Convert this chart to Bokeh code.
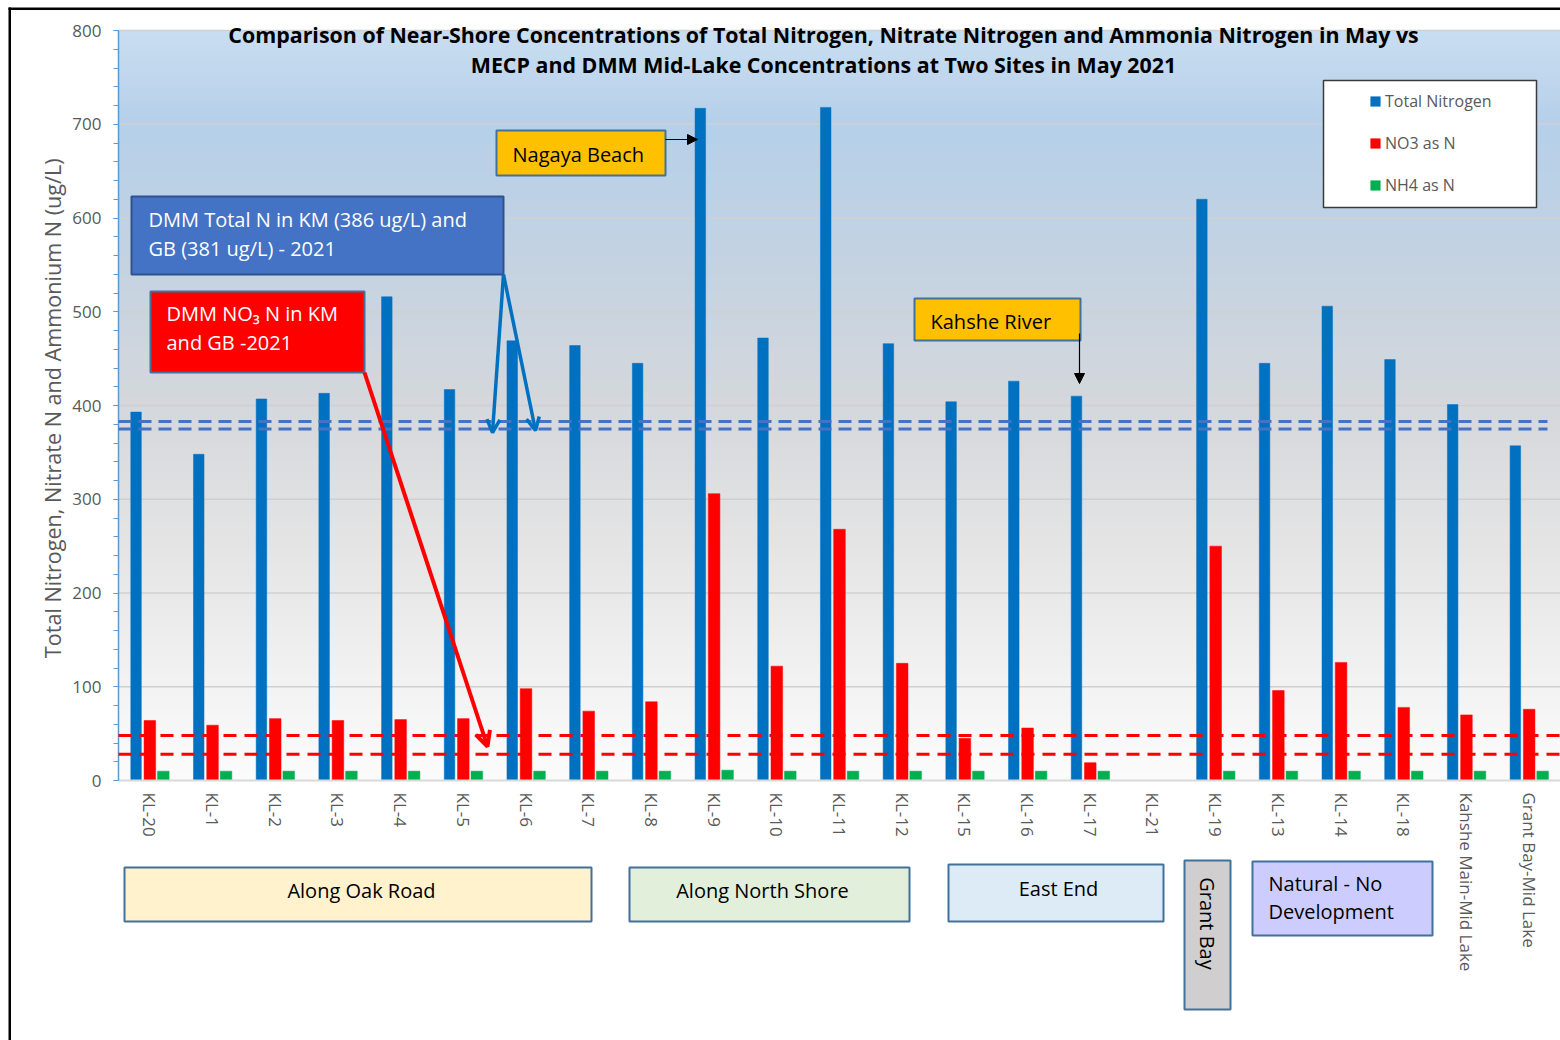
import math
import numpy as np
from bokeh.plotting import figure
from bokeh.models import (ColumnDataSource, Range1d, Label, BoxAnnotation, Arrow, OpenHead,
                          NormalHead, Legend, LegendItem, FixedTicker)
from bokeh.transform import dodge
from bokeh.embed import file_html
from bokeh.resources import INLINE

# ---------------- data ----------------
sites = ["KL-20", "KL-1", "KL-2", "KL-3", "KL-4", "KL-5", "KL-6", "KL-7", "KL-8", "KL-9",
         "KL-10", "KL-11", "KL-12", "KL-15", "KL-16", "KL-17", "KL-21", "KL-19", "KL-13",
         "KL-14", "KL-18", "Kahshe Main-Mid Lake", "Grant Bay-Mid Lake"]
total_n = [393, 348, 407, 413, 516, 417, 469, 464, 445, 717, 472, 718, 466, 404, 426, 410,
           0, 620, 445, 506, 449, 401, 357]
no3_n = [64, 59, 66, 64, 65, 66, 98, 74, 84, 306, 122, 268, 125, 45, 56, 19,
         0, 250, 96, 126, 78, 70, 76]
nh4_n = [10, 10, 10, 10, 10, 10, 10, 10, 10, 11, 10, 10, 10, 10, 10, 10,
         0, 10, 10, 10, 10, 10, 10]
dmm_total_n_lines = [383, 375]
dmm_no3_lines = [48, 28]
y_ticks = [0, 100, 200, 300, 400, 500, 600, 700, 800]

FONT = "Open Sans"
GRAY = "#595959"

# ---------------- layout constants (page px) ----------------
W, H = 1560, 1040
FRAME_L, FRAME_T, FRAME_B, FRAME_R = 118, 30, 780, 1560
CAT_W = (FRAME_R - FRAME_L) / len(sites)
PPU = (FRAME_B - FRAME_T) / 800.0


def X(px):
    return (px - FRAME_L) / CAT_W


def Y(py):
    return (FRAME_B - py) / PPU


pos = [i + 0.5 for i in range(len(sites))]
src = ColumnDataSource(dict(pos=pos, site=sites, tn=total_n, no3=no3_n, nh4=nh4_n))

p = figure(width=W, height=H, x_range=Range1d(X(0), X(W)), y_range=Range1d(Y(H), Y(0)),
           output_backend="svg", toolbar_location=None, title=None,
           min_border_left=0, min_border_right=0, min_border_top=0, min_border_bottom=0)
p.outline_line_color = None
p.border_fill_color = "white"
p.background_fill_color = "white"
p.xgrid.visible = False
p.ygrid.visible = False

# gradient background of the plotting area (0..n categories, 0..800)
stops_v = [0, 100, 250, 400, 550, 700, 800]
stops_c = [(252, 252, 252), (243, 243, 243), (229, 229, 229), (213, 216, 220),
           (197, 211, 226), (182, 208, 234), (202, 222, 241)]
ys = np.linspace(0, 800, 400)
img = np.empty((400, 2), dtype=np.uint32)
view = img.view(dtype=np.uint8).reshape((400, 2, 4))
for k in range(3):
    view[:, :, k] = np.interp(ys, stops_v, [c[k] for c in stops_c])[:, None].astype(np.uint8)
view[:, :, 3] = 255
p.image_rgba(image=[img], x=0, y=0, dw=len(sites), dh=800, level="image")

# horizontal gridlines at the major ticks
n = len(sites)
p.segment(x0=[0] * len(y_ticks[1:]), x1=[n] * len(y_ticks[1:]), y0=y_ticks[1:], y1=y_ticks[1:],
          line_color="#D0D0D0", line_width=1.5)

# bars
r_tn = p.vbar(x=dodge("pos", -0.22), top="tn", width=0.168, source=src,
              fill_color="#0070C0", line_color="#0070C0", line_width=0.5)
r_no3 = p.vbar(x=dodge("pos", 0.0), top="no3", width=0.185, source=src,
               fill_color="#FF0000", line_color="#FF0000", line_width=0.5)
r_nh4 = p.vbar(x=dodge("pos", 0.215), top="nh4", width=0.185, source=src,
               fill_color="#00B050", line_color="#00B050", line_width=0.5)

# axes (fixed at the data origin, drawn inside the frame)
p.yaxis.fixed_location = 0
p.yaxis.bounds = (0, 800)
p.yaxis.ticker = FixedTicker(ticks=y_ticks, minor_ticks=list(range(0, 801, 20)))
p.yaxis.axis_line_color = "#5B9BD5"
p.yaxis.axis_line_width = 1.5
p.yaxis.major_tick_line_color = "#5B9BD5"
p.yaxis.minor_tick_line_color = "#5B9BD5"
p.yaxis.major_tick_in = 0
p.yaxis.major_tick_out = 5
p.yaxis.minor_tick_in = 0
p.yaxis.minor_tick_out = 5
p.yaxis.major_label_text_font = FONT
p.yaxis.major_label_text_font_size = "17px"
p.yaxis.major_label_text_color = GRAY
p.yaxis.major_label_standoff = 12

p.xaxis.fixed_location = 0
p.xaxis.bounds = (0, n)
p.xaxis.ticker = FixedTicker(ticks=pos)
p.xaxis.major_label_overrides = {x: s for x, s in zip(pos, sites)}
p.xaxis.major_label_orientation = -math.pi / 2
p.xaxis.major_label_text_font = FONT
p.xaxis.major_label_text_font_size = "17px"
p.xaxis.major_label_text_color = GRAY
p.xaxis.major_label_standoff = 6
p.xaxis.major_tick_line_color = None
p.xaxis.minor_tick_line_color = None
p.xaxis.axis_line_color = "#D9D9D9"
p.xaxis.axis_line_width = 2

# reference (DMM mid-lake) dashed lines
p.segment(x0=[0] * 2, x1=[X(1547)] * 2, y0=dmm_total_n_lines, y1=dmm_total_n_lines,
          line_color="#4472C4", line_width=3, line_dash="13 7", level="annotation")
p.segment(x0=[0] * 2, x1=[n] * 2, y0=dmm_no3_lines, y1=dmm_no3_lines,
          line_color="#FF0000", line_width=3, line_dash="13 8", level="annotation")


def box(l, t, r, b, fill, line="#41719C", lw=2):
    p.add_layout(BoxAnnotation(left=X(l), right=X(r), top=Y(t), bottom=Y(b),
                               fill_color=fill, fill_alpha=1, line_color=line,
                               line_alpha=1 if lw else 0, line_width=lw if lw else 1))


def txt(px, py, s, size, color="black", align="left", bold=False, angle=0.0):
    p.add_layout(Label(x=X(px), y=Y(py), text=s, text_font=FONT,
                       text_font_size=f"{size}px", text_color=color, text_align=align,
                       text_baseline="middle", angle=angle,
                       text_font_style="bold" if bold else "normal"))


def arrow(x0, y0, x1, y1, color, lw, head):
    p.add_layout(Arrow(x_start=X(x0), y_start=Y(y0), x_end=X(x1), y_end=Y(y1),
                       line_color=color, line_width=lw, end=head))


# y axis title
txt(52, 405, "Total Nitrogen, Nitrate N and Ammonium N  (ug/L)", 21.6, GRAY, "center",
    angle=math.pi / 2)

# chart title
txt(823, 34, "Comparison of Near-Shore Concentrations of Total Nitrogen, Nitrate Nitrogen and Ammonia Nitrogen in May vs",
    21.4, "black", "center", True)
txt(823, 64, "MECP and DMM Mid-Lake Concentrations at Two Sites in May 2021", 21.4, "black", "center", True)

# legend box + legend
box(1323, 80, 1536, 207, "white", "#3A3A3A", 1.5)
legend = Legend(items=[LegendItem(label="Total Nitrogen", renderers=[r_tn]),
                       LegendItem(label="NO3 as N", renderers=[r_no3]),
                       LegendItem(label="NH4 as N", renderers=[r_nh4])],
                location=(1364, H - 201), orientation="vertical")
legend.glyph_width = 12
legend.glyph_height = 12
legend.label_text_font = FONT
legend.label_text_font_size = "16px"
legend.label_text_color = GRAY
legend.label_standoff = 4
legend.label_height = 20
legend.spacing = 20
legend.padding = 5
legend.margin = 0
legend.background_fill_alpha = 0
legend.border_line_alpha = 0
p.add_layout(legend)

# callout boxes in the plot
box(496, 130, 665, 175, "#FFC000")
txt(512, 154, "Nagaya Beach", 20)
arrow(665, 139, 697, 139, "black", 1.2, NormalHead(size=10, fill_color="black", line_color="black"))

box(914, 298, 1080, 340, "#FFC000")
txt(930, 321, "Kahshe River", 20)
arrow(1079, 333, 1079, 383, "black", 1.2, NormalHead(size=10, fill_color="black", line_color="black"))

box(131, 196, 503, 274, "#4472C4", "#2F528F")
txt(148, 219, "DMM Total N in KM (386 ug/L) and", 20, "white")
txt(148, 248, "GB (381 ug/L) - 2021", 20, "white")
arrow(503, 274, 492, 432, "#0070C0", 3.5, OpenHead(size=13, line_color="#0070C0", line_width=3.5))
arrow(503, 274, 535, 430, "#0070C0", 3.5, OpenHead(size=13, line_color="#0070C0", line_width=3.5))

box(150, 291, 364, 372, "#FF0000")
txt(166, 313, "DMM NO\u2083 N in KM", 20, "white")
txt(166, 342, "and GB -2021", 20, "white")
arrow(364, 372, 487, 746, "#FF0000", 4, OpenHead(size=15, line_color="#FF0000", line_width=4))

# group boxes below the axis
box(124, 867, 591, 921, "#FFF2CC")
txt(361, 890, "Along Oak Road", 20, "black", "center")
box(629, 867, 909, 921, "#E2EFDA")
txt(762, 890, "Along North Shore", 20, "black", "center")
box(948, 864, 1163, 921, "#DDEBF7")
txt(1058, 888, "East End", 20, "black", "center")
box(1184, 860, 1230, 1009, "#D0CECE")
txt(1207, 923, "Grant Bay", 20, "black", "center", angle=-math.pi / 2)
box(1252, 861, 1432, 935, "#CCCCFF")
txt(1268, 883, "Natural - No", 20)
txt(1268, 911, "Development", 20)

# page frame border (left / top)
box(8, 7, 10.5, H, "black", None, 0)
box(8, 7, W, 9.5, "black", None, 0)

open("out.html", "w").write(file_html(p, INLINE))
